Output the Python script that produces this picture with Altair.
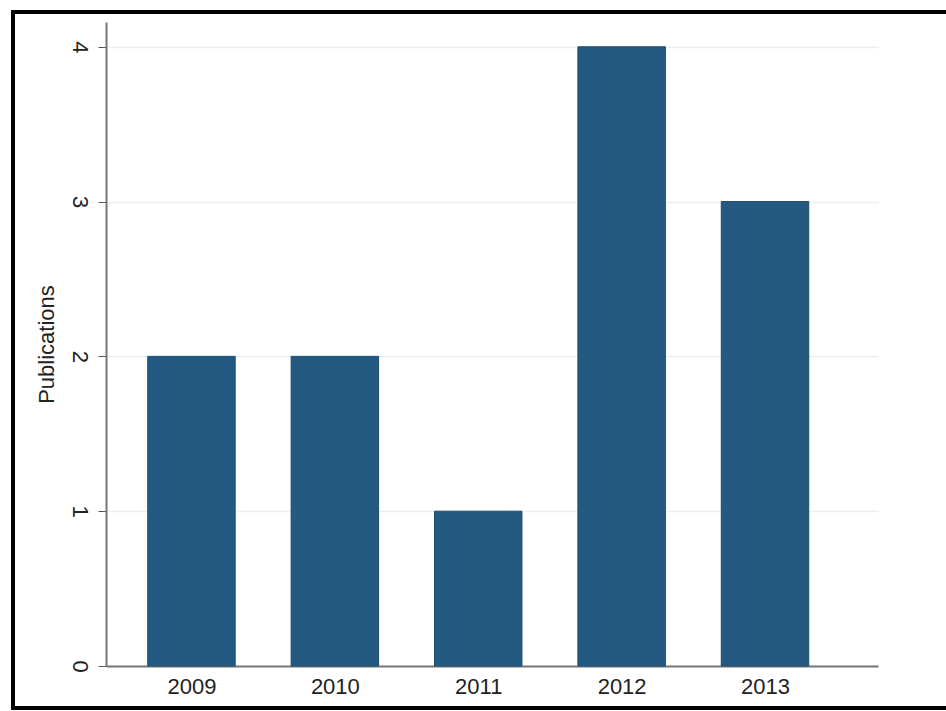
import altair as alt
import pandas as pd

years = [2009, 2010, 2011, 2012, 2013]
publications = [2, 2, 1, 4, 3]
y_ticks = [0, 1, 2, 3, 4]

df = pd.DataFrame({"year": years, "pubs": publications})

FONT = "Liberation Sans"
BAR = "#245a82"

base = alt.Chart(df)

bars = base.transform_calculate(
    x0="datum.year - 0.305", x1="datum.year + 0.305", zero="0"
).mark_bar(color=BAR, stroke="#1d4c70", strokeWidth=1).encode(
    x=alt.X("x0:Q",
            scale=alt.Scale(domain=[2008.404, 2013.788], nice=False, zero=False),
            axis=alt.Axis(values=years, format="d", title=None, grid=False,
                          labelFontSize=22, labelFont=FONT, labelColor="#222222",
                          domainColor="#777777", domainWidth=2, ticks=False,
                          labelPadding=10)),
    x2="x1:Q",
    y=alt.Y("pubs:Q",
            scale=alt.Scale(domain=[0, 4.16], nice=False),
            axis=alt.Axis(values=y_ticks, title="Publications", titleFontSize=22,
                          titleFont=FONT, titleFontWeight="normal", titleColor="#222222",
                          titlePadding=10,
                          labelAngle=90, labelAlign="center", labelBaseline="top",
                          labelFontSize=22, labelFont=FONT, labelColor="#222222",
                          labelPadding=9, tickSize=8, tickColor="#555555",
                          domainColor="#777777", domainWidth=2,
                          grid=True, gridColor="#eeeeee", gridWidth=1.5)),
    y2="zero:Q",
)

border = alt.Chart(df).mark_rect(filled=False, stroke="black", strokeWidth=4).encode(
    x=alt.value(-93), x2=alt.value(850), y=alt.value(-10), y2=alt.value(686)
)

chart = alt.layer(bars, border).properties(
    width=772, height=644,
    background="white",
    autosize=alt.AutoSizeParams(type="none"),
    padding={"left": 106, "top": 22, "right": 68, "bottom": 45},
).configure_view(stroke=None)

chart.save("out.html", embed_options={"renderer": "svg", "actions": False})
